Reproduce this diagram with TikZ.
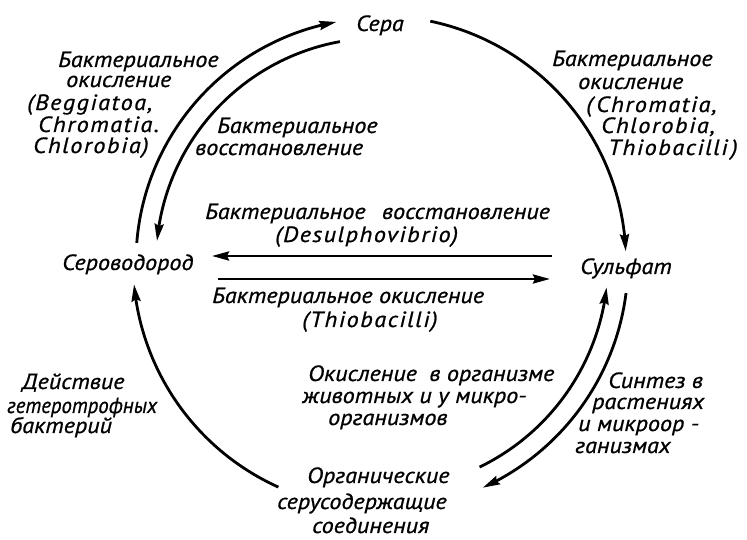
\documentclass[tikz,border=0pt]{standalone}
\usepackage{graphicx}
\usepackage{fontspec}
\newfontfamily\lbfont[FakeStretch=1.1,FakeBold=0.8]{PT Sans}
\newcommand{\lat}[1]{{\addfontfeature{LetterSpace=7}#1}}
\usetikzlibrary{arrows.meta,bending,calc}
\tikzset{
  lbl/.style={font=\lbfont\itshape\fontsize{22}{24}\selectfont, inner sep=0pt, anchor=base west},
  conn/.style={line width=2.8pt, -{Stealth[length=17pt,width=9pt,inset=2pt]}}
}
\begin{document}
\begin{tikzpicture}[x=1pt,y=1pt]
\useasboundingbox (0,0) rectangle (747,540);
\coordinate (C) at (380,278);
% main substances
\node[lbl] (sera) at (356,509) {Сера};
\node[lbl] (h2s) at (62,270) {Сероводород};
\node[lbl] (sulf) at (580,266) {Сульфат};
\node[lbl] (org1) at (307,57) {Органические};
\node[lbl] (org2) at (277,31) {серусодержащие};
\node[lbl] (org3) at (312,7) {соединения};
% top-left outer labels
\node[lbl] (tl1) at (58,473) {Бактериальное};
\node[lbl] (tl2) at (66,453) {окисление};
\node[lbl] (tl3) at (27,430) {\lat{(Beggiatoa,}};
\node[lbl] (tl4) at (38,408) {\lat{Chromatia.}};
\node[lbl] (tl5) at (33,387) {\lat{Chlorobia)}};
% top-left inner labels
\node[lbl] (ti1) at (217,407) {Бактериальное};
\node[lbl] (ti2) at (195,385) {восстановление};
% top-right labels
\node[lbl] (tr1) at (552,474) {Бактериальное};
\node[lbl] (tr2) at (578,451) {окисление};
\node[lbl] (tr3) at (586,428) {\lat{(\,Chromatia,}};
\node[lbl] (tr4) at (601,407) {\lat{Chlorobia,}};
\node[lbl] (tr5) at (608,385) {\lat{Thiobacilli\,)}};
% middle labels
\node[lbl] (m1) at (205,321) {Бактериальное\hspace{10pt} восстановление};
\node[lbl] (m2) at (275,298) {\lat{(Desulphovibrio)}};
\node[lbl] (m3) at (212,237) {Бактериальное окисление};
\node[lbl] (m4) at (302,213) {\lat{(Thiobacilli)}};
% bottom-left labels
\node[lbl] (bl1) at (22,151) {Действие};
\node[lbl] (bl2) at (7,127) {\scalebox{0.86}[1]{гетеротрофных}};
\node[lbl] (bl3) at (10,107) {бактерий};
% bottom-middle labels
\node[lbl] (bm1) at (308,159) {Окисление\hspace{6pt} в организме};
\node[lbl] (bm2) at (302,137) {животных и у микро-};
\node[lbl] (bm3) at (328,115) {организмов};
% bottom-right labels
\node[lbl] (br1) at (608,152) {Синтез в};
\node[lbl] (br2) at (592,131) {растениях};
\node[lbl] (br3) at (578,109) {и микроор -};
\node[lbl] (br4) at (575,87) {ганизмах};
% arc end points
\coordinate (a1s) at ($(C)+(175.5:244pt)$);
\coordinate (a2s) at ($(C)+(100.3:224pt)$);
\coordinate (a3s) at ($(C)+(78.2:246pt)$);
\coordinate (a4s) at ($(C)+(245.7:247pt)$);
\coordinate (a5s) at ($(C)+(-64.1:228pt)$);
\coordinate (a6s) at ($(C)+(-7.2:248pt)$);
% arcs
\draw[conn] (a1s) arc[start angle=175.5, end angle=100.3, radius=244pt];
\draw[conn] (a2s) arc[start angle=100.3, end angle=174.6, radius=224pt];
\draw[conn] (a3s) arc[start angle=78.2, end angle=2.5, radius=246pt];
\draw[conn] (a4s) arc[start angle=245.7, end angle=185.2, radius=247pt];
\draw[conn] (a5s) arc[start angle=-64.1, end angle=-6.4, radius=228pt];
\draw[conn] (a6s) arc[start angle=-7.2, end angle=-65.5, radius=248pt];
% horizontal arrows
\coordinate (hu1) at (552,284);
\coordinate (hu2) at (212,284);
\coordinate (hl1) at (218,261);
\coordinate (hl2) at (550,261);
\draw[conn] (hu1) -- (hu2);
\draw[conn] (hl1) -- (hl2);
\end{tikzpicture}
\end{document}
